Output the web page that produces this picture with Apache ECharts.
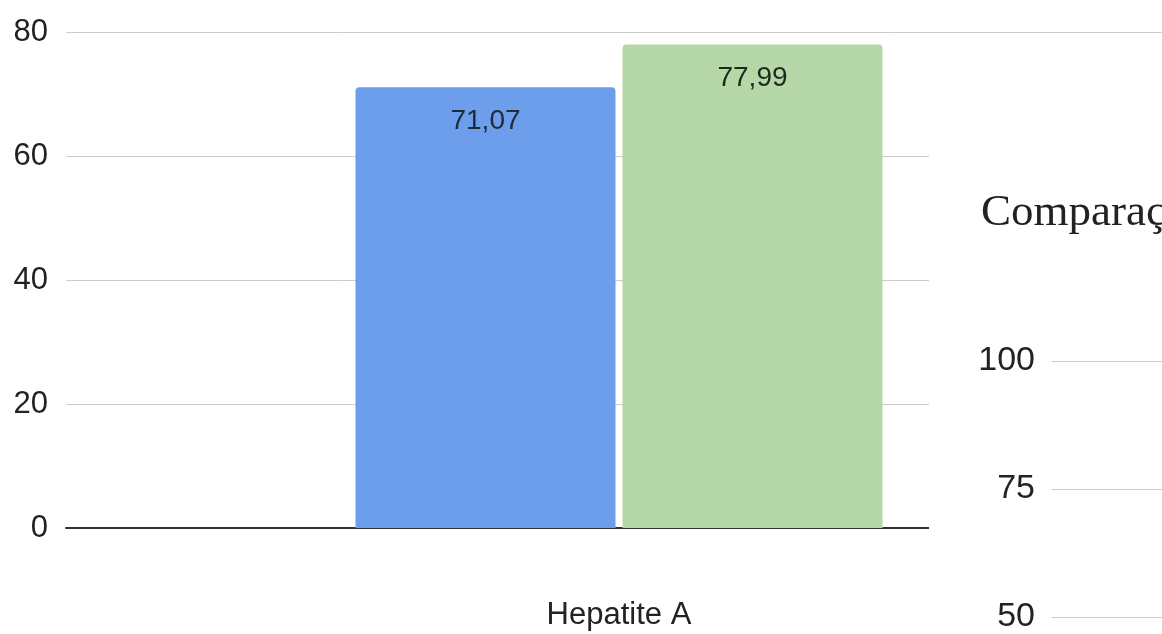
<!DOCTYPE html>
<html>
<head>
<meta charset="utf-8">
<script src="https://cdn.jsdelivr.net/npm/echarts@6/dist/echarts.min.js"></script>
<style>html,body{margin:0;padding:0;background:#fff;overflow:hidden;width:1162px;height:634px}#c{width:1172px;height:634px}</style>
</head>
<body>
<div id="c"></div>
<script>
const categories = ['Hepatite A'];
const seriesA = [71.07];
const seriesB = [77.99];
const mainTicks = [0, 20, 40, 60, 80];
const sideTicks = [50, 75, 100];
const sideTitle = 'Comparaç';

const chart = echarts.init(document.getElementById('c'));
const fmt = p => String(p.value).replace('.', ',').replace(/,(\d)$/, ',$10');
chart.setOption({
  animation: false,
  title: {
    text: sideTitle, left: 976, top: 186, z: 120,
    textStyle: {fontFamily: 'Liberation Serif', fontSize: 45, fontWeight: 'normal', color: '#222'}
  },
  graphic: [{type: 'rect', left: 929, top: 36, z: 100, shape: {width: 250, height: 600}, style: {fill: '#fff'}}],
  grid: [
    {left: 66, right: 0, top: 32, bottom: 106, containLabel: false},
    {left: 1052, right: 0, top: 361, bottom: 10, containLabel: false}
  ],
  xAxis: [
    {type: 'category', gridIndex: 0, data: categories,
     axisTick: {show: false}, axisLine: {lineStyle: {color: '#333', width: 2}},
     axisLabel: {margin: 72, fontFamily: 'Liberation Sans', fontSize: 31, color: '#222'}},
    {type: 'category', gridIndex: 1, data: [''], show: false}
  ],
  yAxis: [
    {type: 'value', gridIndex: 0, min: mainTicks[0], max: mainTicks[mainTicks.length-1], interval: 20,
     axisLine: {show: false}, axisTick: {show: false},
     splitLine: {lineStyle: {color: '#cccccc', width: 1}},
     axisLabel: {margin: 18, fontFamily: 'Liberation Sans', fontSize: 31, color: '#222'}},
    {type: 'value', gridIndex: 1, min: sideTicks[0], max: sideTicks[sideTicks.length-1], interval: 25, z: 110,
     axisLine: {show: false}, axisTick: {show: false},
     splitLine: {lineStyle: {color: '#cccccc', width: 1}},
     axisLabel: {margin: 17, fontFamily: 'Liberation Sans', fontSize: 34, color: '#222'}}
  ],
  series: [
    {type: 'bar', xAxisIndex: 0, yAxisIndex: 0, data: seriesA, barWidth: 260, barGap: '2.7%',
     itemStyle: {color: '#6d9eeb', borderRadius: [4, 4, 0, 0]},
     label: {show: true, position: 'insideTop', distance: 20, formatter: fmt,
             fontFamily: 'Liberation Sans', fontSize: 28, color: '#1f2a3a'}},
    {type: 'bar', xAxisIndex: 0, yAxisIndex: 0, data: seriesB, barWidth: 260,
     itemStyle: {color: '#b6d7a8', borderRadius: [4, 4, 0, 0]},
     label: {show: true, position: 'insideTop', distance: 20, formatter: fmt,
             fontFamily: 'Liberation Sans', fontSize: 28, color: '#1f2a1f'}},
    {type: 'bar', xAxisIndex: 1, yAxisIndex: 1, data: []}
  ]
});
</script>
</body>
</html>
